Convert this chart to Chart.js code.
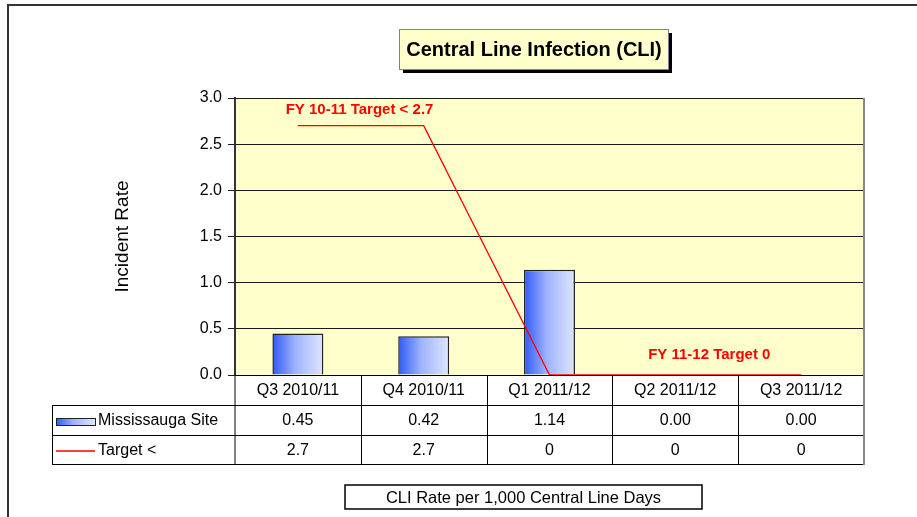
<!DOCTYPE html>
<html>
<head>
<meta charset="utf-8">
<script src="https://cdn.jsdelivr.net/npm/chart.js@4/dist/chart.umd.min.js"></script>
<style>
    html, body { margin: 0; padding: 0; background: #fff; }
    #wrap { width: 917px; height: 517px; position: relative; }
</style>
</head>
<body>
<div id="wrap"><canvas id="cliChart" width="917" height="517"></canvas></div>
<script>
// Chart data
const categories = ['Q3 2010/11', 'Q4 2010/11', 'Q1 2011/12', 'Q2 2011/12', 'Q3 2011/12'];
const siteRates = [0.45, 0.42, 1.14, 0.00, 0.00];
const targetRates = [2.7, 2.7, 0, 0, 0];
const seriesNames = ['Mississauga Site', 'Target <'];
const yMin = 0;
const yMax = 3.0;
const yStep = 0.5;

const FONT = '"Liberation Sans", Arial, sans-serif';

function barGradient(ctx, x0, x1) {
    const g = ctx.createLinearGradient(x0, 0, x1, 0);
    g.addColorStop(0, '#2d5af6');
    g.addColorStop(0.45, '#9fb3ff');
    g.addColorStop(1, '#dfe6ff');
    return g;
}

// Background, frame, title box and data table
const decorPlugin = {
    id: 'decor',
    beforeDraw(chart) {
        const { ctx, chartArea: a } = chart;
        ctx.save();
        ctx.fillStyle = '#ffffcc';
        ctx.fillRect(a.left, a.top, a.right - a.left, a.bottom - a.top);

        // outer frame
        ctx.strokeStyle = '#333';
        ctx.lineWidth = 2;
        ctx.beginPath();
        ctx.moveTo(8, 517);
        ctx.lineTo(8, 5);
        ctx.lineTo(917, 5);
        ctx.stroke();
        ctx.restore();
    },
    beforeDatasetsDraw(chart) {
        const { ctx, chartArea: a } = chart;
        ctx.save();
        ctx.strokeStyle = '#000';
        ctx.lineWidth = 1;
        ctx.beginPath();
        ctx.moveTo(a.left, a.bottom + 0.5);
        ctx.lineTo(a.right, a.bottom + 0.5);
        ctx.stroke();
        ctx.restore();
    },
    afterDraw(chart) {
        const { ctx, chartArea: a } = chart;
        const xs = chart.scales.x;
        const ys = chart.scales.y;
        const n = categories.length;
        const colW = (a.right - a.left) / n;
        const top = a.bottom;
        const r1 = top + 30, r2 = top + 60, r3 = top + 89;
        const tableLeft = 52;

        ctx.save();

        // annotations
        ctx.fillStyle = '#ff0000';
        ctx.font = 'bold 15px ' + FONT;
        ctx.textAlign = 'center';
        ctx.textBaseline = 'middle';
        ctx.fillText('FY 10-11 Target < 2.7', xs.getPixelForValue(0.49), ys.getPixelForValue(2.87));
        ctx.fillText('FY 11-12 Target 0', xs.getPixelForValue(3.27), ys.getPixelForValue(0.22));

        // table grid
        ctx.strokeStyle = '#000';
        ctx.lineWidth = 1;
        ctx.beginPath();
        [r1, r2, r3].forEach(y => {
            ctx.moveTo(tableLeft, y + 0.5);
            ctx.lineTo(a.right, y + 0.5);
        });
        for (let i = 1; i < n; i++) {
            const x = Math.round(a.left + colW * i) + 0.5;
            ctx.moveTo(x, top);
            ctx.lineTo(x, r3);
        }
        ctx.moveTo(a.left, top);
        ctx.lineTo(a.left, r3);
        ctx.moveTo(tableLeft + 0.5, r1);
        ctx.lineTo(tableLeft + 0.5, r3);
        ctx.stroke();

        // right edge of plot + table
        ctx.strokeStyle = '#888';
        ctx.lineWidth = 2;
        ctx.beginPath();
        ctx.moveTo(a.right, a.top);
        ctx.lineTo(a.right, r3 + 1);
        ctx.stroke();

        // table text
        ctx.fillStyle = '#000';
        ctx.font = '16px ' + FONT;
        ctx.textAlign = 'center';
        ctx.textBaseline = 'middle';
        categories.forEach((c, i) => {
            const cx = xs.getPixelForValue(i);
            ctx.fillText(c, cx, (top + r1) / 2 + 1);
            ctx.fillText(siteRates[i].toFixed(2), cx, (r1 + r2) / 2 + 1);
            ctx.fillText(String(targetRates[i]), cx, (r2 + r3) / 2 + 1);
        });

        // legend keys
        ctx.fillStyle = barGradient(ctx, 56, 95);
        ctx.fillRect(56, r1 + 13, 39, 7);
        ctx.strokeStyle = '#222';
        ctx.lineWidth = 1;
        ctx.strokeRect(56.5, r1 + 13.5, 39, 7);
        ctx.strokeStyle = '#ff0000';
        ctx.lineWidth = 1.5;
        ctx.beginPath();
        ctx.moveTo(56, r2 + 16);
        ctx.lineTo(95, r2 + 16);
        ctx.stroke();
        ctx.fillStyle = '#000';
        ctx.textAlign = 'left';
        ctx.fillText(seriesNames[0], 98, (r1 + r2) / 2 + 1);
        ctx.fillText(seriesNames[1], 98, (r2 + r3) / 2 + 1);

        // y axis title
        ctx.save();
        ctx.translate(123, (a.top + a.bottom) / 2);
        ctx.rotate(-Math.PI / 2);
        ctx.textAlign = 'center';
        ctx.font = '19px ' + FONT;
        ctx.fillText('Incident Rate', 0, 0);
        ctx.restore();

        // title box
        ctx.fillStyle = '#000';
        ctx.fillRect(403, 33, 269, 40);
        ctx.fillStyle = '#ffffcc';
        ctx.fillRect(399, 29, 269, 40);
        ctx.strokeStyle = '#7f7f9f';
        ctx.lineWidth = 1;
        ctx.strokeRect(399.5, 29.5, 269, 40);
        ctx.fillStyle = '#000';
        ctx.textAlign = 'center';
        ctx.font = 'bold 20px ' + FONT;
        ctx.fillText('Central Line Infection (CLI)', 534, 50);

        // footnote box
        ctx.strokeStyle = '#000';
        ctx.lineWidth = 1.5;
        ctx.strokeRect(345, 485, 357, 24);
        ctx.font = '16.5px ' + FONT;
        ctx.fillText('CLI Rate per 1,000 Central Line Days', 523.5, 498);

        ctx.restore();
    }
};

new Chart(document.getElementById('cliChart'), {
    data: {
        labels: categories,
        datasets: [
            {
                type: 'line',
                label: seriesNames[1],
                data: targetRates,
                borderColor: '#ff0000',
                borderWidth: 1.3,
                pointRadius: 0,
                tension: 0,
                order: 0
            },
            {
                type: 'bar',
                label: seriesNames[0],
                data: siteRates,
                backgroundColor: (c) => {
                    const xs = c.chart.scales.x;
                    if (!xs || c.dataIndex === undefined) return '#8fa5ff';
                    const cx = xs.getPixelForValue(c.dataIndex);
                    const w = xs.width / categories.length * 0.405;
                    if (!isFinite(cx) || !isFinite(w) || w <= 0) return '#8fa5ff';
                    return barGradient(c.chart.ctx, cx - w / 2, cx + w / 2);
                },
                borderColor: '#222',
                borderWidth: 1.5,
                categoryPercentage: 1,
                barPercentage: 0.405,
                order: 1
            }
        ]
    },
    options: {
        responsive: false,
        animation: false,
        devicePixelRatio: 1,
        layout: { padding: { top: 98, right: 53, bottom: 142, left: 0 } },
        plugins: {
            legend: { display: false },
            title: { display: false },
            tooltip: { enabled: false }
        },
        scales: {
            x: { display: false, offset: true },
            y: {
                min: yMin,
                max: yMax,
                afterFit: (s) => { s.width = 235; },
                ticks: {
                    stepSize: yStep,
                    callback: (v) => Number(v).toFixed(1),
                    color: '#000',
                    font: { family: FONT, size: 16 },
                    padding: 6
                },
                grid: {
                    color: '#1a1a1a',
                    lineWidth: 1,
                    tickLength: 7,
                    drawTicks: true
                },
                border: { display: true, color: '#333', width: 2 }
            }
        }
    },
    plugins: [decorPlugin]
});
</script>
</body>
</html>
